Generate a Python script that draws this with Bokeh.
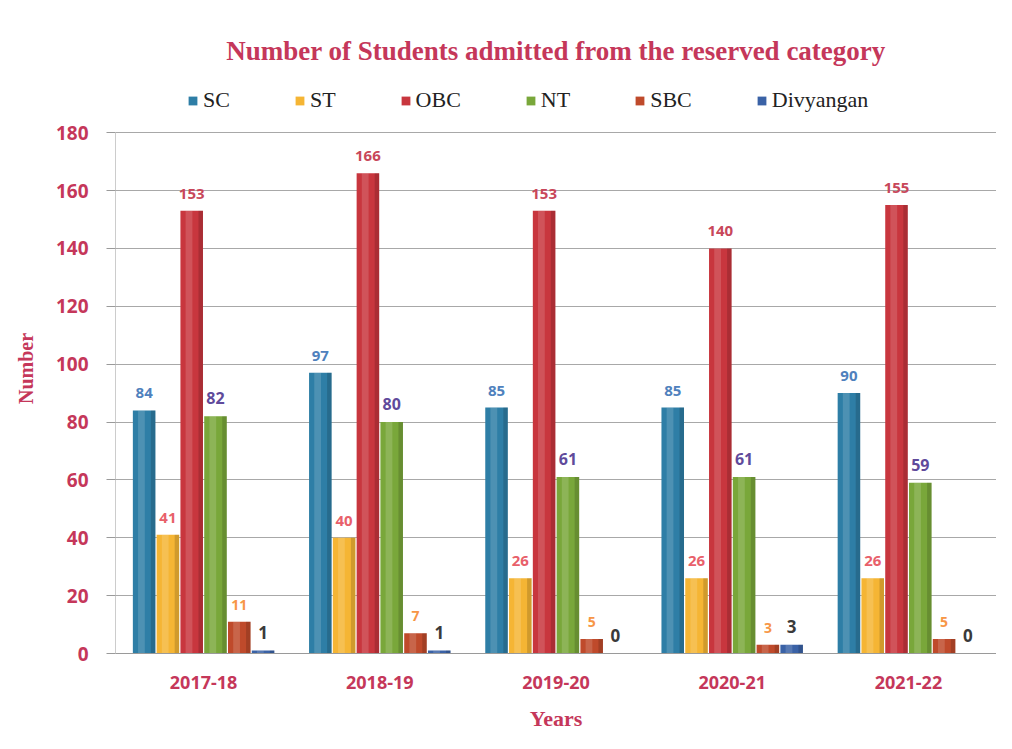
from bokeh.plotting import figure
from bokeh.models import FactorRange, Range1d, ColumnDataSource, Legend, LegendItem, FixedTicker
from bokeh.transform import dodge
from bokeh.core.properties import value
from bokeh.embed import file_html
from bokeh.resources import INLINE

years = ["2017-18", "2018-19", "2019-20", "2020-21", "2021-22"]
series = ["SC", "ST", "OBC", "NT", "SBC", "Divyangan"]
sc = [84, 97, 85, 85, 90]
st = [41, 40, 26, 26, 26]
obc = [153, 166, 153, 140, 155]
nt = [82, 80, 61, 61, 59]
sbc = [11, 7, 5, 3, 5]
divyangan = [1, 1, 0, 3, 0]
y_ticks = [0, 20, 40, 60, 80, 100, 120, 140, 160, 180]

values = [sc, st, obc, nt, sbc, divyangan]
bar_colors = ["#2E7EA6", "#F5B534", "#C8363E", "#79A73A", "#BF4A2B", "#3A62A6"]
label_colors = ["#4F81BD", "#E8606A", "#C8475A", "#604A9B", "#F79646", "#3A3A3A"]
label_sizes = ["15px", "15px", "15px", "16px", "14px", "17px"]

TITLE_RED = "#C5375A"
AXIS_GRAY = "#9a9a9a"

p = figure(
    x_range=FactorRange(factors=years, range_padding=0),
    y_range=Range1d(0, 197),
    width=996, height=733,
    output_backend="svg", toolbar_location=None,
    min_border_left=115, min_border_right=0, min_border_bottom=72, min_border_top=83,
)
p.outline_line_color = None
p.background_fill_color = "white"
p.border_fill_color = "white"

p.title.text = "Number of Students admitted from the reserved category"
p.title.align = "center"
p.title.offset = -40
p.title.text_font = "Liberation Serif"
p.title.text_font_style = "bold"
p.title.text_font_size = "27px"
p.title.text_color = TITLE_RED
p.title.standoff = 36

# y-axis line from 0 to the top tick, at the left edge of the first category
axis_src = ColumnDataSource(dict(x=[years[0]], y0=[y_ticks[0]], y1=[y_ticks[-1]]))
p.segment(x0=dodge("x", -0.5, range=p.x_range), x1=dodge("x", -0.5, range=p.x_range),
          y0="y0", y1="y1", source=axis_src, line_color=AXIS_GRAY, line_width=1)

width = 0.128
step = 0.135
items = []
for i, (name, vals) in enumerate(zip(series, values)):
    off = (i - 2.5) * step
    src = ColumnDataSource(dict(year=years, v=vals, lbl=[str(x) for x in vals]))
    r = p.vbar(x=dodge("year", off, range=p.x_range), top="v", width=width, source=src,
               fill_color=bar_colors[i], line_color=None)
    # shading for the cylinder look
    p.vbar(x=dodge("year", off - width * 0.12, range=p.x_range), top="v", width=width * 0.3,
           source=src, fill_color="white", fill_alpha=0.15, line_color=None)
    p.vbar(x=dodge("year", off + width * 0.4, range=p.x_range), top="v", width=width * 0.2,
           source=src, fill_color="black", fill_alpha=0.15, line_color=None)
    items.append(LegendItem(label=name, renderers=[r]))
    p.text(x=dodge("year", off, range=p.x_range), y="v", text="lbl", source=src,
           y_offset=-12, text_align="center", text_baseline="bottom",
           text_font=value("Open Sans"), text_font_style="bold",
           text_font_size=label_sizes[i], text_color=label_colors[i])

legend = Legend(items=items, orientation="horizontal", location=(72, 540),
                label_text_font="Liberation Serif", label_text_font_size="22px",
                label_text_color="#222222",
                glyph_width=11, glyph_height=11, spacing=64, label_standoff=5,
                border_line_color=None, background_fill_alpha=0,
                margin=0, padding=4)
p.add_layout(legend)

p.yaxis.ticker = FixedTicker(ticks=y_ticks)
p.yaxis.axis_label = "Number"
p.yaxis.axis_label_text_font = "Liberation Serif"
p.yaxis.axis_label_text_font_style = "bold"
p.yaxis.axis_label_text_font_size = "20px"
p.yaxis.axis_label_text_color = TITLE_RED
p.yaxis.axis_label_standoff = 16
p.yaxis.major_label_text_font = "Open Sans"
p.yaxis.major_label_text_font_style = "bold"
p.yaxis.major_label_text_font_size = "19px"
p.yaxis.major_label_text_color = TITLE_RED
p.yaxis.major_label_standoff = 18
p.yaxis.major_tick_out = 9
p.yaxis.major_tick_in = 0
p.yaxis.minor_tick_line_color = None
p.yaxis.axis_line_color = None
p.yaxis.major_tick_line_color = AXIS_GRAY

p.xaxis.axis_label = "Years"
p.xaxis.axis_label_text_font = "Liberation Serif"
p.xaxis.axis_label_text_font_style = "bold"
p.xaxis.axis_label_text_font_size = "22px"
p.xaxis.axis_label_text_color = TITLE_RED
p.xaxis.axis_label_standoff = 14
p.xaxis.major_label_text_font = "Open Sans"
p.xaxis.major_label_text_font_style = "bold"
p.xaxis.major_label_text_font_size = "18px"
p.xaxis.major_label_text_color = TITLE_RED
p.xaxis.major_label_standoff = 16
p.xaxis.major_tick_line_color = None
p.xaxis.axis_line_color = AXIS_GRAY

p.xgrid.grid_line_color = None
p.ygrid.grid_line_color = "#a8a8a8"
p.ygrid.grid_line_width = 1

open("out.html", "w").write(file_html(p, INLINE))
